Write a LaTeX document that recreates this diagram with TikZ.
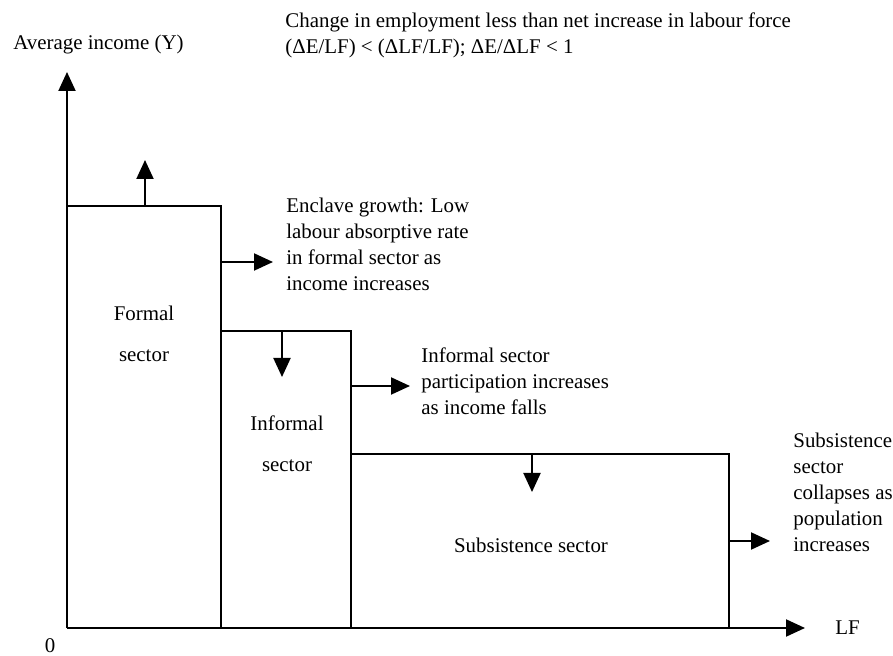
\documentclass[tikz,border=0pt]{standalone}
\usepackage{fontspec}
\setmainfont{Liberation Serif}
\usetikzlibrary{arrows.meta}
\usetikzlibrary{positioning}
\tikzset{sectorline/.style = {line width = 1pt}}
\tikzset{shiftarrow/.style = {line width = 1pt, -{Triangle[length = 9.5pt, width = 8.5pt]}}}
\tikzset{txt/.style = {inner sep = 0, font = \fontsize{10.45}{13}\selectfont}}

\begin{document}
\begin{tikzpicture}[x = 0.5pt, y = -0.5pt]
      \useasboundingbox (0, 0) rectangle (893, 656);

      % axes
      \coordinate (O) at (67, 628);
      \coordinate (ytop) at (67, 72);
      \coordinate (xend) at (805, 628);
      \draw [shiftarrow] (O) -- (ytop);
      \draw [shiftarrow] (O) -- (xend);

      \node [txt, anchor = west] (ylabel) at (13, 45) {Average income (Y)};
      \node [txt, anchor = west] (xlabel) at (835, 628) {LF};
      \node [txt] (zero) at (50, 646) {0};

      % sectors
      \coordinate (formaltop) at (67, 206);
      \coordinate (informaltop) at (221, 331);
      \coordinate (subsistop) at (351, 454);
      \draw [sectorline] (formaltop) -- (221, 206) -- (221, 628);
      \draw [sectorline] (informaltop) -- (351, 331) -- (351, 628);
      \draw [sectorline] (subsistop) -- (729, 454) -- (729, 628);

      \node [txt, align = center] (formal) at (144, 334) {Formal\\[7.5pt]sector};
      \node [txt, align = center] (informal) at (287, 444) {Informal\\[7.5pt]sector};
      \node [txt] (subsis) at (531, 545) {Subsistence sector};

      % shifts
      \coordinate (a1) at (145, 206);
      \coordinate (a2) at (145, 160);
      \draw [shiftarrow] (a1) -- (a2);

      \coordinate (b1) at (221, 262);
      \coordinate (b2) at (273, 262);
      \draw [shiftarrow] (b1) -- (b2);

      \coordinate (c1) at (282, 331);
      \coordinate (c2) at (282, 377);
      \draw [shiftarrow] (c1) -- (c2);

      \coordinate (d1) at (351, 386);
      \coordinate (d2) at (410, 386);
      \draw [shiftarrow] (d1) -- (d2);

      \coordinate (e1) at (532, 454);
      \coordinate (e2) at (532, 492);
      \draw [shiftarrow] (e1) -- (e2);

      \coordinate (f1) at (729, 541);
      \coordinate (f2) at (770, 541);
      \draw [shiftarrow] (f1) -- (f2);

      % notes
      \node [txt, anchor = west, align = left] (headnote) at (285, 35)
        {Change in employment less than net increase in labour force\\
         (ΔE/LF) < (ΔLF/LF); ΔE/ΔLF < 1};
      \node [txt, anchor = west, align = left] (enclave) at (286, 244)
        {Enclave growth: Low\\labour absorptive rate\\in formal sector as\\income increases};
      \node [txt, anchor = west, align = left] (informalnote) at (421, 381)
        {Informal sector\\participation increases\\as income falls};
      \node [txt, anchor = west, align = left] (subsisnote) at (793, 492)
        {Subsistence\\sector\\collapses as\\population\\increases};
    \end{tikzpicture}
\end{document}
